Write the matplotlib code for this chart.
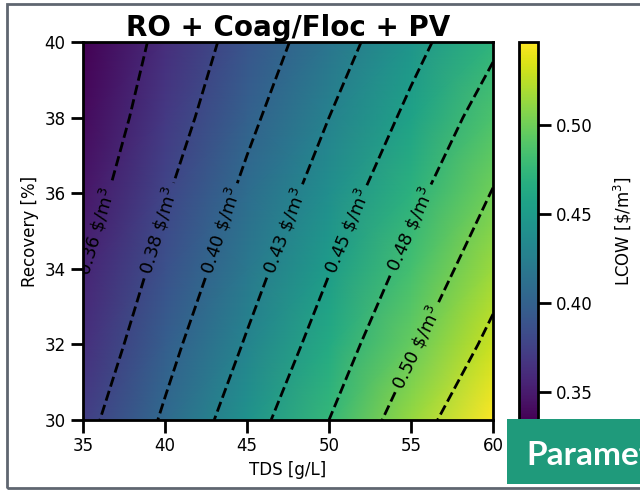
import numpy as np
import matplotlib.pyplot as plt
from matplotlib.patches import Rectangle

# grid
tds = [35, 40, 45, 50, 55, 60]              # g/L
recovery = [30, 32, 34, 36, 38, 40]         # %
lcow = [
    [0.373, 0.407, 0.442, 0.476, 0.513, 0.547],   # 30 %
    [0.363, 0.397, 0.430, 0.463, 0.497, 0.530],   # 32 %
    [0.355, 0.387, 0.419, 0.451, 0.483, 0.515],   # 34 %
    [0.346, 0.378, 0.409, 0.439, 0.470, 0.501],   # 36 %
    [0.339, 0.369, 0.399, 0.428, 0.457, 0.487],   # 38 %
    [0.334, 0.362, 0.390, 0.417, 0.445, 0.472],   # 40 %
]
contour_levels = [0.356, 0.380, 0.404, 0.428, 0.452, 0.476, 0.500, 0.524]
label_levels = contour_levels[:7]
# where the labels sit (TDS, recovery)
label_spots = [(35.7, 35.0), (39.7, 35.0), (43.5, 35.0), (47.3, 35.0),
               (51.0, 35.0), (55.1, 35.0), (54.6, 32.1)]
cbar_ticks = [0.35, 0.40, 0.45, 0.50]
xticks = [35, 40, 45, 50, 55, 60]
yticks = [30, 32, 34, 36, 38, 40]

fig = plt.figure(figsize=(6.4, 4.9), dpi=100)
ax = fig.add_axes([0.1297, 0.1429, 0.6406, 0.7714])
cax = fig.add_axes([0.811, 0.1429, 0.0297, 0.7714])

X, Y = np.meshgrid(tds, recovery)
Z = np.array(lcow)
mesh = ax.pcolormesh(X, Y, Z, cmap='viridis', shading='gouraud')
cs = ax.contour(X, Y, Z, levels=contour_levels, colors='k',
                linestyles='--', linewidths=2)
ax.clabel(cs, levels=label_levels, fmt=lambda v: f'{v:.2f} \\$/m$^3$',
          fontsize=13, manual=label_spots)

ax.set_xticks(xticks)
ax.set_yticks(yticks)
ax.set_xlim(35, 60)
ax.set_ylim(30, 40)
ax.set_xlabel('TDS [g/L]', fontsize=12)
ax.set_ylabel('Recovery [%]', fontsize=12)
ax.set_title('RO + Coag/Floc + PV', fontsize=20, fontweight='bold', pad=1)
ax.tick_params(labelsize=12, length=9, width=2)
for s in ax.spines.values():
    s.set_linewidth(2)

cb = fig.colorbar(mesh, cax=cax, ticks=cbar_ticks)
cb.set_label('LCOW [\\$/m$^3$]', fontsize=12, labelpad=14)
cb.ax.tick_params(labelsize=12, length=9, width=2)
cb.outline.set_linewidth(2)

# slide frame and the cut-off box from the screenshot
fig.add_artist(Rectangle((7 / 640, 1 - 488 / 490), 1.2, 484 / 490,
                         transform=fig.transFigure, fill=False,
                         edgecolor='#5f6670', linewidth=2))
fig.add_artist(Rectangle((507 / 640, 1 - 484 / 490), 133 / 640, 65 / 490,
                         transform=fig.transFigure, facecolor='#1f9a7b',
                         edgecolor='none'))
fig.text(526 / 640, 1 - 465 / 490, 'Parameters', color='white',
         fontsize=24, fontweight='bold', family='Lato', va='baseline')

fig.savefig('out.png', dpi=100)
